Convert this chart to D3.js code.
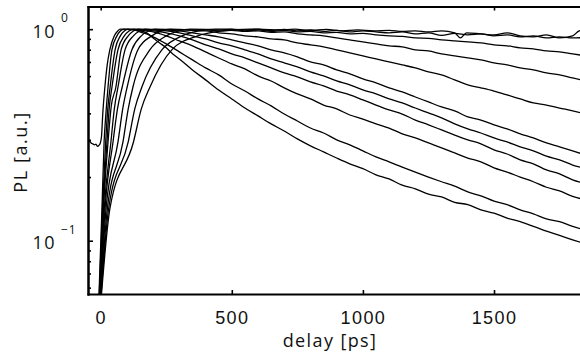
<!DOCTYPE html>
<html>
<head>
<meta charset="utf-8">
<script src="https://cdn.jsdelivr.net/npm/d3@7"></script>
<style>
  body { margin: 0; background: #fff; }
  svg { display: block; font-family: "Open Sans", sans-serif; }
</style>
</head>
<body>
<svg id="chart" width="580" height="356"></svg>
<script>
// PL transients, [delay ps, normalised PL], one array per trace (fastest first)
const trace1 = [[-48,0.293],[-42,0.296],[-36,0.289],[-30,0.287],[-24,0.284],[-18,0.286],[-12,0.279],[-6,0.283],[-2,0.288],[3,0.31],[8,0.40],[16,0.533],[25,0.68],[35,0.80],[52,0.93],[65,0.98],[74,1.0],
  [100,0.998],[125,0.992],[150,0.982],[175,0.961],[200,0.909],[225,0.861],[250,0.816],[275,0.764],[300,0.723],[350,0.642],[400,0.576],[450,0.516],[500,0.468],[550,0.424],[600,0.389],[650,0.357],[700,0.330],[750,0.303],[800,0.281],[850,0.263],[900,0.246],[950,0.231],[1000,0.219],[1050,0.205],[1100,0.196],[1150,0.183],[1200,0.176],[1250,0.166],[1300,0.161],[1350,0.152],[1400,0.148],[1450,0.140],[1500,0.135],[1550,0.128],[1600,0.123],[1650,0.117],[1700,0.111],[1750,0.106],[1800,0.101],[1850,0.0965]];
const trace2 = [[-9,0.045],[5,0.144],[13,0.293],[20,0.40],[28,0.533],[43,0.80],[62,0.93],[75,0.98],[89,1.0],
  [110,0.998],[130,0.992],[150,0.971],[175,0.950],[200,0.920],[250,0.852],[300,0.781],[350,0.716],[400,0.656],[450,0.608],[500,0.551],[550,0.510],[600,0.468],[650,0.434],[700,0.397],[750,0.368],[800,0.341],[850,0.323],[900,0.300],[950,0.284],[1000,0.266],[1050,0.249],[1100,0.236],[1150,0.223],[1200,0.211],[1250,0.200],[1300,0.190],[1350,0.181],[1400,0.170],[1450,0.163],[1500,0.154],[1550,0.148],[1600,0.140],[1650,0.134],[1700,0.127],[1750,0.123],[1800,0.117],[1850,0.112]];
const trace3 = [[-8,0.045],[7,0.144],[19,0.293],[27,0.42],[36,0.533],[55,0.80],[75,0.93],[90,0.98],[104,1.0],
  [130,0.998],[150,0.992],[200,0.971],[250,0.930],[300,0.880],[350,0.834],[400,0.781],[450,0.731],[500,0.685],[550,0.649],[600,0.601],[650,0.569],[700,0.528],[750,0.494],[800,0.468],[850,0.438],[900,0.420],[950,0.393],[1000,0.376],[1050,0.357],[1100,0.341],[1150,0.320],[1200,0.306],[1250,0.290],[1300,0.275],[1350,0.260],[1400,0.246],[1450,0.236],[1500,0.221],[1550,0.211],[1600,0.200],[1650,0.190],[1700,0.179],[1750,0.172],[1800,0.162],[1850,0.156]];
const trace4 = [[-7,0.045],[9,0.144],[24,0.293],[33,0.43],[43,0.533],[66,0.80],[90,0.93],[108,0.98],[123,1.0],
  [150,0.998],[200,0.982],[250,0.961],[300,0.930],[350,0.890],[400,0.843],[450,0.807],[500,0.764],[550,0.731],[600,0.693],[650,0.656],[700,0.621],[750,0.595],[800,0.563],[850,0.539],[900,0.510],[950,0.489],[1000,0.463],[1050,0.438],[1100,0.415],[1150,0.397],[1200,0.372],[1250,0.353],[1300,0.334],[1350,0.316],[1400,0.300],[1450,0.287],[1500,0.269],[1550,0.257],[1600,0.241],[1650,0.231],[1700,0.216],[1750,0.207],[1800,0.194],[1850,0.186]];
const trace5 = [[-6,0.045],[11,0.144],[28,0.293],[40,0.43],[58,0.533],[78,0.80],[105,0.93],[125,0.98],[142,1.0],
  [175,0.998],[200,0.992],[250,0.982],[300,0.961],[350,0.930],[400,0.900],[450,0.861],[500,0.834],[550,0.798],[600,0.764],[650,0.723],[700,0.693],[750,0.663],[800,0.628],[850,0.601],[900,0.569],[950,0.545],[1000,0.516],[1050,0.494],[1100,0.468],[1150,0.448],[1200,0.424],[1250,0.402],[1300,0.381],[1350,0.357],[1400,0.338],[1450,0.323],[1500,0.306],[1550,0.293],[1600,0.278],[1650,0.266],[1700,0.251],[1750,0.241],[1800,0.228],[1850,0.219]];
const trace6 = [[-6,0.045],[14,0.144],[39,0.293],[52,0.42],[66,0.533],[93,0.80],[125,0.93],[148,0.98],[169,1.0],
  [200,0.998],[250,0.992],[300,0.982],[350,0.961],[400,0.940],[450,0.920],[500,0.890],[550,0.861],[600,0.834],[650,0.798],[700,0.773],[750,0.740],[800,0.700],[850,0.678],[900,0.642],[950,0.615],[1000,0.582],[1050,0.557],[1100,0.528],[1150,0.505],[1200,0.478],[1250,0.453],[1300,0.429],[1350,0.411],[1400,0.385],[1450,0.372],[1500,0.353],[1550,0.338],[1600,0.320],[1650,0.306],[1700,0.290],[1750,0.278],[1800,0.266],[1850,0.254]];
const trace7 = [[-5,0.045],[17,0.144],[47,0.293],[64,0.42],[82,0.533],[119,0.80],[155,0.93],[182,0.98],[207,1.0],
  [250,0.998],[300,0.992],[350,0.987],[400,0.982],[450,0.961],[500,0.950],[550,0.930],[600,0.920],[650,0.900],[700,0.890],[750,0.861],[800,0.843],[850,0.825],[900,0.798],[950,0.773],[1000,0.748],[1050,0.723],[1100,0.700],[1150,0.678],[1200,0.656],[1250,0.628],[1300,0.608],[1350,0.576],[1400,0.545],[1450,0.528],[1500,0.510],[1550,0.489],[1600,0.468],[1650,0.448],[1700,0.438],[1750,0.424],[1800,0.411],[1850,0.397]];
const trace8 = [[-5,0.045],[21,0.144],[66,0.293],[84,0.42],[101,0.533],[142,0.80],[195,0.93],[230,0.98],[265,1.0],
  [300,0.998],[350,0.992],[400,0.992],[450,0.982],[500,0.987],[550,0.976],[600,0.982],[650,0.966],[700,0.971],[750,0.950],[800,0.940],[850,0.930],[900,0.909],[950,0.890],[1000,0.871],[1050,0.852],[1100,0.834],[1150,0.825],[1200,0.798],[1250,0.789],[1300,0.764],[1350,0.748],[1400,0.731],[1450,0.716],[1500,0.693],[1550,0.678],[1600,0.656],[1650,0.642],[1700,0.621],[1750,0.608],[1800,0.588],[1850,0.569]];
const trace9 = [[-4,0.045],[26,0.144],[85,0.293],[105,0.42],[123,0.533],[188,0.80],[250,0.93],[295,0.98],[342,1.0],
  [400,0.998],[450,0.992],[500,0.998],[550,0.982],[600,0.992],[650,0.976],[700,0.987],[750,0.971],[800,0.976],[850,0.961],[900,0.966],[950,0.950],[1000,0.955],[1050,0.940],[1100,0.930],[1150,0.925],[1200,0.909],[1250,0.905],[1300,0.890],[1350,0.880],[1400,0.871],[1450,0.861],[1500,0.843],[1550,0.834],[1600,0.816],[1650,0.807],[1700,0.789],[1750,0.781],[1800,0.764],[1850,0.748]];
const trace10 = [[-4,0.045],[31,0.144],[105,0.293],[130,0.42],[157,0.533],[234,0.80],[310,0.93],[370,0.98],[436,1.0],
  [500,1.0],[550,0.992],[600,1.0],[650,0.987],[700,0.998],[750,0.982],[800,0.992],[850,0.976],[900,0.987],[950,0.971],[1000,0.982],[1050,0.971],[1100,0.961],[1150,0.971],[1200,0.950],[1250,0.961],[1300,0.935],[1350,0.955],[1400,0.940],[1450,0.950],[1500,0.930],[1550,0.940],[1600,0.920],[1650,0.930],[1700,0.909],[1750,0.920],[1800,0.909],[1850,0.914]];
const trace11 = [[-3,0.045],[36,0.144],[125,0.293],[155,0.42],[188,0.533],[272,0.80],[370,0.93],[460,0.98],[570,1.0],
  [620,0.998],[680,0.992],[740,1.0],[800,0.987],[860,0.998],[920,0.982],[980,0.992],[1040,0.982],[1100,0.987],[1150,0.976],[1200,0.982],[1250,0.971],[1300,0.982],[1350,0.961],[1372,0.909],[1395,0.961],[1450,0.950],[1500,0.940],[1550,0.961],[1600,0.930],[1650,0.920],[1700,0.940],[1750,0.909],[1800,0.930],[1825,0.982],[1850,0.992]];

const traces = [trace1, trace2, trace3, trace4, trace5, trace6, trace7, trace8, trace9, trace10, trace11];

const xTicks = [0, 500, 1000, 1500];
const yMajor = [0.1, 1];
const yMinor = [0.06, 0.07, 0.08, 0.09, 0.2, 0.3, 0.4, 0.5, 0.6, 0.7, 0.8, 0.9];
const yLabels = [{ v: 0.1, exp: '\u22121' }, { v: 1, exp: '0' }];

// plot box
const box = { left: 88, top: 6.5, bottom: 294, right: 586.3 };

const x = d3.scaleLinear().domain([-48.4, 1852]).range([box.left, box.right]);
const y = d3.scaleLog().domain([0.056, 1.28]).range([box.bottom, box.top]);

const svg = d3.select('#chart');

svg.append('defs').append('clipPath').attr('id', 'plot-clip')
  .append('rect')
  .attr('x', box.left).attr('y', box.top)
  .attr('width', box.right - box.left).attr('height', box.bottom - box.top);

const line = d3.line()
  .x(d => x(d[0]))
  .y(d => y(d[1]))
  .curve(d3.curveMonotoneX);

svg.append('g')
  .attr('clip-path', 'url(#plot-clip)')
  .selectAll('path')
  .data(traces)
  .enter().append('path')
  .attr('d', line)
  .attr('fill', 'none')
  .attr('stroke', '#000')
  .attr('stroke-width', 1.3)
  .attr('stroke-linejoin', 'round');

// axes, ticks pointing inward
function styleAxis(g) {
  g.select('.domain').attr('stroke', '#000').attr('stroke-width', 2).attr('stroke-linecap', 'square');
  g.selectAll('.tick line').attr('stroke', '#000').attr('stroke-width', 1.6);
}

const gx = svg.append('g')
  .attr('transform', `translate(0,${box.bottom})`)
  .call(d3.axisBottom(x).tickValues(xTicks).tickSize(-4).tickSizeOuter(0).tickPadding(17)
    .tickFormat(d3.format('d')))
  .call(styleAxis);
gx.selectAll('text')
  .attr('fill', '#111')
  .style('font-size', '18px')
  .style('letter-spacing', '1.4px');

svg.append('g')
  .attr('transform', `translate(0,${box.top})`)
  .call(d3.axisTop(x).tickValues(xTicks).tickSize(-4).tickSizeOuter(0).tickFormat(''))
  .call(styleAxis);

svg.append('g')
  .attr('transform', `translate(${box.left},0)`)
  .call(d3.axisLeft(y).tickValues(yMajor).tickSize(-5).tickSizeOuter(0).tickFormat(''))
  .call(styleAxis);
svg.append('g')
  .attr('transform', `translate(${box.left},0)`)
  .call(d3.axisLeft(y).tickValues(yMinor).tickSize(-3).tickSizeOuter(0).tickFormat(''))
  .call(styleAxis);

svg.append('g')
  .attr('transform', `translate(${box.right},0)`)
  .call(d3.axisRight(y).tickValues(yMajor).tickSize(-5).tickSizeOuter(0).tickFormat(''))
  .call(styleAxis);

// 10^n labels
const yl = svg.append('g').attr('fill', '#111');
yl.selectAll('text.base')
  .data(yLabels)
  .enter().append('text')
  .attr('class', 'base')
  .attr('x', 56)
  .attr('y', d => y(d.v) + 8.5)
  .attr('text-anchor', 'end')
  .style('font-size', '18px')
  .style('letter-spacing', '1.4px')
  .text('10');
yl.selectAll('text.exp')
  .data(yLabels)
  .enter().append('text')
  .attr('class', 'exp')
  .attr('x', 61)
  .attr('y', d => y(d.v) - 7)
  .style('font-size', '12px')
  .style('letter-spacing', '1px')
  .text(d => d.exp);

svg.append('text')
  .attr('x', 330)
  .attr('y', 347)
  .attr('text-anchor', 'middle')
  .attr('fill', '#111')
  .style('font-size', '18px')
  .style('letter-spacing', '1.4px')
  .text('delay [ps]');

svg.append('text')
  .attr('transform', 'translate(27,152) rotate(-90)')
  .attr('text-anchor', 'middle')
  .attr('fill', '#111')
  .style('font-size', '18px')
  .style('letter-spacing', '1.6px')
  .text('PL [a.u.]');
</script>
</body>
</html>
